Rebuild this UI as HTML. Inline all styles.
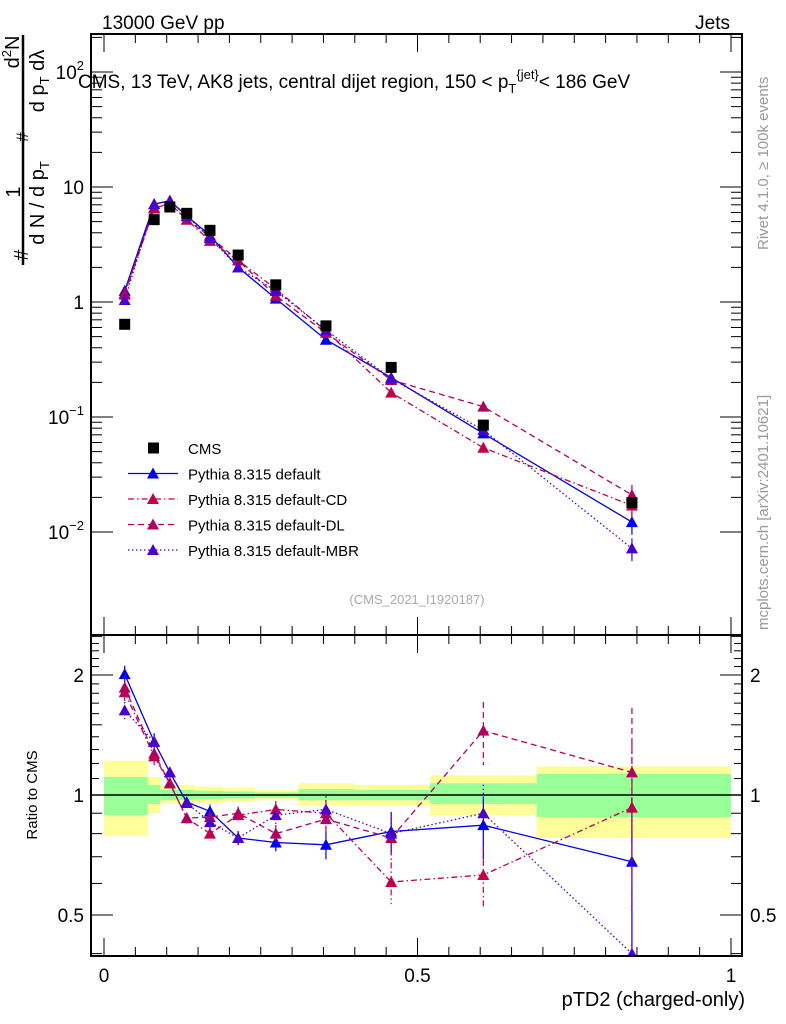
<!DOCTYPE html>
<html><head><meta charset="utf-8"><style>
html,body{margin:0;padding:0;background:#fff;}
svg{display:block;font-family:"Liberation Sans",sans-serif;}
</style></head><body>
<svg id="c" width="786" height="1024" viewBox="0 0 786 1024" xmlns="http://www.w3.org/2000/svg">
<text x="102" y="29" font-size="19">13000 GeV pp</text>
<text x="730" y="29" font-size="19" text-anchor="end">Jets</text>
<text x="78" y="88" font-size="19">CMS, 13 TeV, AK8 jets, central dijet region, 150 &lt; p<tspan font-size="13" dy="5">T</tspan><tspan font-size="13" dy="-14">{jet}</tspan><tspan dy="9">&lt; 186 GeV</tspan></text>
<text transform="translate(768,250) rotate(-90)" font-size="15" fill="#999">Rivet 4.1.0, ≥ 100k events</text>
<text transform="translate(768,630) rotate(-90)" font-size="15" fill="#999">mcplots.cern.ch [arXiv:2401.10621]</text>
<text x="417" y="604" font-size="13" fill="#aaa" text-anchor="middle">(CMS_2021_I1920187)</text>
<g transform="rotate(-90)" font-size="20">
<line x1="-35" y1="23" x2="-265" y2="23" stroke="#000" stroke-width="2.5"/>
<text x="-52" y="19" text-anchor="middle">d<tspan font-size="13" dy="-8">2</tspan><tspan dy="8">N</tspan></text>
<text x="-192" y="20" text-anchor="middle">1</text>
<text x="-81" y="44" text-anchor="middle">d p<tspan font-size="13" dy="5">T</tspan><tspan dy="-5"> dλ</tspan></text>
<text x="-137" y="28" font-size="17" text-anchor="middle">#</text>
<text x="-203" y="44" text-anchor="middle">d N / d p<tspan font-size="13" dy="5">T</tspan></text>
<text x="-255" y="28" text-anchor="middle">#</text>
</g>
<text transform="translate(37,795) rotate(-90)" font-size="15" text-anchor="middle">Ratio to CMS</text>
<text x="745" y="1006" font-size="20" text-anchor="end">pTD2 (charged-only)</text>
<g id="bands"></g><g id="plots"></g><g id="frames"></g>
<g font-size="15" id="legend"></g>
</svg>
<script>
const xCenters=[0.033,0.080,0.105,0.132,0.169,0.214,0.274,0.354,0.458,0.605,0.842];
const cmsValues=[0.64,5.2,6.7,5.9,4.2,2.56,1.41,0.62,0.27,0.085,0.018];
const defaultValues=[1.25,7.1,7.6,5.6,3.8,2.0,1.07,0.47,0.22,0.072,0.0122];
const cdValues=[1.16,6.5,7.2,5.2,3.4,2.3,1.30,0.56,0.163,0.054,0.017];
const dlValues=[1.19,6.6,7.2,5.2,3.7,2.3,1.13,0.54,0.21,0.123,0.021];
const mbrValues=[1.04,7.1,7.6,5.6,3.6,2.0,1.25,0.57,0.216,0.077,0.0072];
const defaultRatio=[2.01,1.36,1.14,0.96,0.91,0.78,0.76,0.75,0.81,0.84,0.68];
const cdRatio=[1.81,1.25,1.07,0.875,0.80,0.89,0.92,0.90,0.605,0.63,0.93];
const dlRatio=[1.86,1.27,1.07,0.875,0.88,0.90,0.80,0.87,0.78,1.45,1.14];
const mbrRatio=[1.63,1.36,1.14,0.955,0.855,0.78,0.89,0.92,0.80,0.90,0.40];
const relErr=[0.05,0.05,0.03,0.03,0.04,0.04,0.05,0.08,0.12,0.18,0.45];
const binEdges=[0,0.07,0.09,0.12,0.145,0.19,0.24,0.31,0.4,0.52,0.69,1.0];
const yellowLow=[0.79,0.90,0.95,0.95,0.95,0.96,0.97,0.94,0.94,0.89,0.78];
const yellowHigh=[1.22,1.11,1.06,1.06,1.05,1.04,1.03,1.07,1.06,1.12,1.18];
const greenLow=[0.89,0.95,0.97,0.97,0.975,0.98,0.985,0.97,0.97,0.95,0.88];
const greenHigh=[1.11,1.06,1.03,1.03,1.025,1.02,1.015,1.035,1.03,1.07,1.13];
const xTicks=[0,0.5,1];
const mainTicks=[-2,-1,0,1,2];
const ratioTicks=[0.5,1,2];

const NS="http://www.w3.org/2000/svg";
const L=91,R=742,T=34,MB=635,RB=956;
const X=v=>104+v*627;
const Y=v=>302-Math.log10(v)*115;
const YR=v=>795-Math.log10(v)*398.6;
function mk(tag,a,parent){const e=document.createElementNS(NS,tag);for(const k in a)e.setAttribute(k,a[k]);parent.appendChild(e);return e;}
const bands=document.getElementById('bands'),plots=document.getElementById('plots'),frames=document.getElementById('frames');

for(let i=0;i<binEdges.length-1;i++){
 const x1=X(binEdges[i]),x2=X(binEdges[i+1]);
 let r=mk('rect',{x:x1,y:YR(yellowHigh[i]),width:x2-x1,height:YR(yellowLow[i])-YR(yellowHigh[i]),fill:'#ffff99'},bands);
 
 
 r=mk('rect',{x:x1,y:YR(greenHigh[i]),width:x2-x1,height:YR(greenLow[i])-YR(greenHigh[i]),fill:'#99ff99'},bands);
 
 
}
mk('line',{x1:L,x2:R,y1:YR(1),y2:YR(1),stroke:'#000','stroke-width':1.5},bands);

function tri(g,x,y,c){mk('path',{d:`M${x},${y-6} L${x+6},${y+5} L${x-6},${y+5} Z`,fill:c},g);}
const series=[
 {n:'default',v:defaultValues,r:defaultRatio,c:'#0000ee',d:''},
 {n:'default-cd',v:cdValues,r:cdRatio,c:'#c0004a',d:'6,3,1.5,3'},
 {n:'default-dl',v:dlValues,r:dlRatio,c:'#b00060',d:'6,4'},
 {n:'default-mbr',v:mbrValues,r:mbrRatio,c:'#4b00cc',d:'1.5,2.5'}];
const mainClip=mk('clipPath',{id:'mc'},plots);mk('rect',{x:L,y:T,width:R-L,height:MB-T},mainClip);
const ratClip=mk('clipPath',{id:'rc'},plots);mk('rect',{x:L,y:MB,width:R-L,height:RB-MB},ratClip);
series.forEach(s=>{
 const g=mk('g',{'clip-path':'url(#mc)'},plots);
 
 
 mk('polyline',{points:xCenters.map((x,i)=>X(x)+','+Y(s.v[i])).join(' '),fill:'none',stroke:s.c,'stroke-width':1.3,'stroke-dasharray':s.d},g);
 xCenters.forEach((x,i)=>{mk('line',{x1:X(x),x2:X(x),y1:Y(s.v[i]*(1+relErr[i]*0.5)),y2:Y(s.v[i]*(1-relErr[i]*0.5)),stroke:s.c,'stroke-width':1.2},g);tri(g,X(x),Y(s.v[i]),s.c);});
 const h=mk('g',{'clip-path':'url(#rc)'},plots);
 
 
 mk('polyline',{points:xCenters.map((x,i)=>X(x)+','+YR(s.r[i])).join(' '),fill:'none',stroke:s.c,'stroke-width':1.3,'stroke-dasharray':s.d},h);
 xCenters.forEach((x,i)=>{mk('line',{x1:X(x),x2:X(x),y1:YR(s.r[i]*(1+relErr[i])),y2:YR(s.r[i]*(1-relErr[i])),stroke:s.c,'stroke-width':1.2,'stroke-dasharray':s.d},h);tri(h,X(x),YR(s.r[i]),s.c);});
});
const cg=mk('g',{},plots);


xCenters.forEach((x,i)=>mk('rect',{x:X(x)-5.5,y:Y(cmsValues[i])-5.5,width:11,height:11,fill:'#000'},cg));

mk('rect',{x:L,y:T,width:R-L,height:MB-T,fill:'none',stroke:'#000','stroke-width':2},frames);
mk('rect',{x:L,y:MB,width:R-L,height:RB-MB,fill:'none',stroke:'#000','stroke-width':2},frames);
for(let v=0;v<=1.0001;v+=0.05){const big=Math.abs(v*2-Math.round(v*2))<1e-6;const len=big?18:9;
 [[T,1],[MB,-1],[MB,1],[RB,-1]].forEach(([y,dir])=>mk('line',{x1:X(v),x2:X(v),y1:y,y2:y+dir*len,stroke:'#000','stroke-width':1},frames));}
xTicks.forEach(v=>{const t=mk('text',{x:X(v),y:982,'font-size':19,'text-anchor':'middle'},frames);t.textContent=String(v);
 
 });
for(let d=-2;d<=2;d++){for(let m=1;m<10;m++){const y=Y(m*Math.pow(10,d));if(y<T||y>MB)continue;const len=m==1?22:11;
 mk('line',{x1:L,x2:L+len,y1:y,y2:y,stroke:'#000'},frames);mk('line',{x1:R,x2:R-len,y1:y,y2:y,stroke:'#000'},frames);}}
mainTicks.forEach(d=>{const t=mk('text',{x:84,y:Y(Math.pow(10,d))+7,'font-size':19,'text-anchor':'end'},frames);
 
 
 if(d==0)t.textContent='1';else if(d==1)t.textContent='10';else{t.textContent='10';const s=mk('tspan',{dy:-9,'font-size':13},t);s.textContent=String(d).replace('-','−');}});
[0.4,0.5,0.6,0.7,0.8,0.9,1,1.5,2,2.5].forEach(v=>{const y=YR(v);if(y<MB||y>RB)return;const len=[0.5,1,2].includes(v)?22:11;
 mk('line',{x1:L,x2:L+len,y1:y,y2:y,stroke:'#000'},frames);mk('line',{x1:R,x2:R-len,y1:y,y2:y,stroke:'#000'},frames);});
[1.1,1.2,1.3,1.4,1.6,1.7,1.8,1.9,2.1,2.2,2.3,2.4].forEach(v=>{const y=YR(v);if(y<MB)return;
 mk('line',{x1:L,x2:L+8,y1:y,y2:y,stroke:'#000'},frames);mk('line',{x1:R,x2:R-8,y1:y,y2:y,stroke:'#000'},frames);});
ratioTicks.forEach(v=>{[[84,'end'],[750,'start']].forEach(([x,a])=>{const t=mk('text',{x:x,y:YR(v)+7,'font-size':19,'text-anchor':a},frames);t.textContent=String(v);
 
 });});

const lg=document.getElementById('legend');
const labels=['CMS','Pythia 8.315 default','Pythia 8.315 default-CD','Pythia 8.315 default-DL','Pythia 8.315 default-MBR'];
labels.forEach((lab,i)=>{const y=448+i*25.5;const g=mk('g',{},lg);
 
 
 if(i==0)mk('rect',{x:148,y:y-5.5,width:11,height:11,fill:'#000'},g);
 else{const s=series[i-1];mk('line',{x1:128,x2:178,y1:y,y2:y,stroke:s.c,'stroke-width':1.3,'stroke-dasharray':s.d},g);tri(g,153,y,s.c);}
 const t=mk('text',{x:188,y:y+6},g);t.textContent=lab;});
</script>
</body></html>
